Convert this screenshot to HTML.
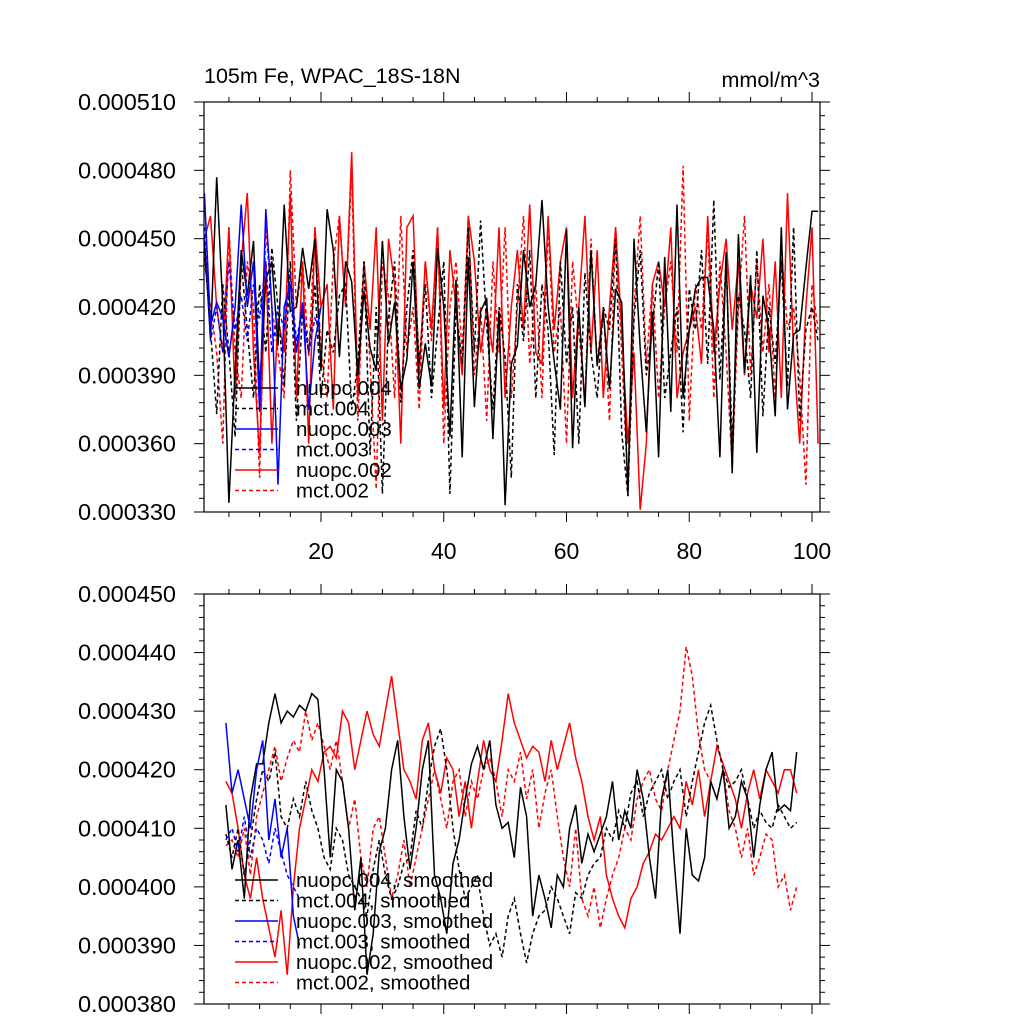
<!DOCTYPE html>
<html><head><meta charset="utf-8"><style>
body{margin:0;background:#fff}
svg text{font-family:"Liberation Sans",sans-serif;fill:#000}
</style></head><body>
<svg id="c" width="1024" height="1024" xmlns="http://www.w3.org/2000/svg"></svg>
<script>
// ---- data (units of 1e-6 mmol/m^3) ----
const topNuopc004=[450,406,477,420,334,392,445,425,449,384,432,440,403,465,418,420,446,428,450,392,463,445,398,440,431,390,427,402,392,449,404,422,384,397,440,384,404,385,446,420,363,432,354,442,376,418,424,362,418,333,395,403,445,420,430,467,420,396,375,454,358,420,376,445,394,418,384,428,422,337,450,402,365,418,354,442,374,465,380,410,428,433,433,410,354,444,347,452,391,434,356,425,410,372,455,375,408,410,437,462,462];
const topMct004=[445,410,373,430,400,363,440,410,380,430,400,446,420,385,440,370,418,400,430,380,410,400,425,430,375,395,440,355,420,338,415,440,378,420,445,395,430,380,410,440,338,420,395,455,400,458,412,375,420,398,345,430,405,445,380,430,410,355,440,395,420,360,435,400,380,420,410,450,365,337,415,445,390,410,440,380,400,420,365,428,410,445,395,467,388,440,360,425,410,380,445,372,420,395,440,385,455,370,410,420,405];
const topNuopc003=[470,412,422,415,398,420,465,420,440,374,463,420,342,420,430,400,422,375,405,420];
const topMct003=[455,405,420,400,440,410,425,405,430,415,440,400,420,410,435,405,420,400,415,410];
const topNuopc002=[450,460,420,400,455,380,440,470,400,355,440,360,415,400,470,380,440,360,455,420,430,375,460,420,488,380,440,410,455,370,450,430,360,455,460,390,440,410,455,375,445,420,390,460,440,400,420,400,455,380,420,445,410,465,400,395,460,410,440,455,380,420,460,400,445,380,420,455,410,360,400,331,360,430,440,420,455,380,400,410,420,395,460,400,430,450,410,440,390,430,415,450,400,440,380,470,400,360,420,455,360];
const topMct002=[440,420,400,360,455,400,380,440,420,345,455,420,400,380,480,420,440,398,455,400,380,440,460,420,480,370,440,395,340,440,425,380,460,400,420,375,440,405,455,360,420,440,400,460,390,420,370,440,400,455,380,420,460,395,430,380,455,400,420,360,440,410,380,450,395,420,370,455,400,340,420,460,395,430,380,420,440,400,482,370,430,410,455,380,440,400,350,420,460,390,440,400,430,380,445,410,420,390,342,430,410];
const botNuopc004=[414,403,408,398,415,421,421,428,433,428,430,429,431,430,433,432,420,405,420,418,410,396,405,385,392,406,410,420,425,412,403,410,420,425,402,398,392,404,408,415,421,424,420,425,414,410,411,405,417,412,395,402,398,393,402,400,410,414,404,409,406,409,412,418,408,413,410,420,415,405,398,415,420,405,392,410,402,401,405,418,415,420,410,412,418,415,405,414,420,423,413,414,413,423];
const botMct004=[409,405,410,402,408,415,420,418,423,412,410,415,412,418,413,410,405,403,410,408,402,400,398,395,403,408,402,398,400,404,405,413,410,418,424,427,420,410,403,398,400,402,395,390,392,388,395,398,392,387,392,395,396,400,398,395,392,399,398,402,404,405,410,408,413,410,416,418,412,416,418,420,415,418,420,412,418,423,428,431,425,420,417,418,420,415,410,413,411,410,414,412,410,411];
const botNuopc003=[428,416,420,415,410,420,425,408,415,405,410,395,390];
const botMct003=[408,410,406,412,405,410,408,404,410,406,402,400,398];
const botNuopc002=[418,416,410,402,398,405,398,393,388,396,385,400,410,415,420,418,423,424,422,430,428,420,425,430,426,424,430,436,428,420,418,415,425,428,420,416,422,420,412,418,410,418,425,420,418,425,433,428,425,422,424,423,418,425,420,424,428,422,418,412,408,412,402,398,395,393,398,400,404,406,409,408,410,412,410,418,414,420,412,418,424,421,418,415,410,416,420,415,420,418,416,420,420,416];
const botMct002=[407,408,405,410,402,412,416,420,424,418,422,425,423,430,425,428,424,420,425,418,410,415,405,400,410,412,405,398,402,408,400,405,410,415,420,415,410,418,420,412,418,415,420,422,418,412,420,418,423,415,420,410,416,420,412,405,400,410,398,395,400,393,398,402,405,410,408,415,418,420,415,413,420,425,430,441,436,426,420,418,415,420,413,410,405,410,402,405,409,408,400,402,396,400];
const topStartX=1, botStartX=4.5;
const xTicks=[20,40,60,80,100];
const topYTicks=[330,360,390,420,450,480,510];
const botYTicks=[380,390,400,410,420,430,440,450];

const svg=document.getElementById('c');
const NS='http://www.w3.org/2000/svg';
function mk(tag,attrs,parent){const e=document.createElementNS(NS,tag);for(const k in attrs)e.setAttribute(k,attrs[k]);(parent||svg).appendChild(e);return e;}
const L=204,R=820;
const xs=x=>321+(x-20)*6.1375;

function panel(name,top,bot,ymin,ymax,yt,minorStep,showX){
  const g=mk('g',{});
  
  
  const ys=v=>bot-(v-ymin)/(ymax-ymin)*(bot-top);
  for(let x=5;x<=100;x+=5){
    const px=xs(x),len=(x%20===0)?10:5;
    mk('line',{x1:px,y1:bot,x2:px,y2:bot+len,stroke:'#000','stroke-width':1},g);
    mk('line',{x1:px,y1:top,x2:px,y2:top-len,stroke:'#000','stroke-width':1},g);
  }
  if(showX) xTicks.forEach(t=>{const e=mk('text',{x:xs(t),y:bot+47,'font-size':23,'text-anchor':'middle'},g);e.textContent=t;});
  for(let i=0;i<yt.length;i++){
    const v=yt[i],py=ys(v);
    mk('line',{x1:L,y1:py,x2:L-10,y2:py,stroke:'#000'},g);
    mk('line',{x1:R,y1:py,x2:R+10,y2:py,stroke:'#000'},g);
    const e=mk('text',{x:176,y:py+8,'font-size':23.5,'text-anchor':'end'},g);
    e.textContent=(v/1e6).toFixed(6);
    
    
    if(i<yt.length-1){for(let m=1;m<5;m++){const mv=v+m*minorStep,mp=ys(mv);
      mk('line',{x1:L,y1:mp,x2:L-5,y2:mp,stroke:'#000'},g);mk('line',{x1:R,y1:mp,x2:R+5,y2:mp,stroke:'#000'},g);}}
  }
  return {g,ys};
}
function series(g,ys,data,x0,color,dash,name){
  const pts=data.map((v,i)=>xs(x0+i).toFixed(1)+','+ys(v).toFixed(1)).join(' ');
  const p=mk('polyline',{points:pts,fill:'none',stroke:color,'stroke-width':1.5,'stroke-dasharray':dash?'4,3':'none'},g);
  
  
}
function legend(g,y0,labels){
  labels.forEach((l,i)=>{const y=y0+i*20.5;
    const ln=mk('line',{x1:235,y1:y,x2:278,y2:y,stroke:l[1],'stroke-width':1.5,'stroke-dasharray':l[2]?'4,3':'none'},g);
    
    const t=mk('text',{x:296,y:y+7,'font-size':20.5},g);t.textContent=l[0];
    
  });
}
const T=panel('top-panel',102,512,330,510,topYTicks,6,true);
series(T.g,T.ys,topMct002,topStartX,'#f00',true,'mct002-line');
series(T.g,T.ys,topNuopc002,topStartX,'#f00',false,'nuopc002-line');
series(T.g,T.ys,topMct004,topStartX,'#000',true,'mct004-line');
series(T.g,T.ys,topNuopc004,topStartX,'#000',false,'nuopc004-line');
series(T.g,T.ys,topMct003,topStartX,'#00f',true,'mct003-line');
series(T.g,T.ys,topNuopc003,topStartX,'#00f',false,'nuopc003-line');
mk('rect',{x:L,y:102,width:R-L,height:410,fill:'none',stroke:'#000','stroke-width':1.2},T.g);
legend(T.g,388,[['nuopc.004','#000',0],['mct.004','#000',1],['nuopc.003','#00f',0],['mct.003','#00f',1],['nuopc.002','#f00',0],['mct.002','#f00',1]]);
let t1=mk('text',{x:204,y:83,'font-size':21.5});t1.textContent='105m Fe, WPAC_18S-18N';

let t2=mk('text',{x:820,y:87,'font-size':21.5,'text-anchor':'end'});t2.textContent='mmol/m^3';

const B=panel('bottom-panel',594,1004,380,450,botYTicks,2,false);
series(B.g,B.ys,botMct002,botStartX,'#f00',true,'mct002-smoothed-line');
series(B.g,B.ys,botNuopc002,botStartX,'#f00',false,'nuopc002-smoothed-line');
series(B.g,B.ys,botMct004,botStartX,'#000',true,'mct004-smoothed-line');
series(B.g,B.ys,botNuopc004,botStartX,'#000',false,'nuopc004-smoothed-line');
series(B.g,B.ys,botMct003,botStartX,'#00f',true,'mct003-smoothed-line');
series(B.g,B.ys,botNuopc003,botStartX,'#00f',false,'nuopc003-smoothed-line');
mk('rect',{x:L,y:594,width:R-L,height:410,fill:'none',stroke:'#000','stroke-width':1.2},B.g);
legend(B.g,880,[['nuopc.004, smoothed','#000',0],['mct.004, smoothed','#000',1],['nuopc.003, smoothed','#00f',0],['mct.003, smoothed','#00f',1],['nuopc.002, smoothed','#f00',0],['mct.002, smoothed','#f00',1]]);
</script>
</body></html>
